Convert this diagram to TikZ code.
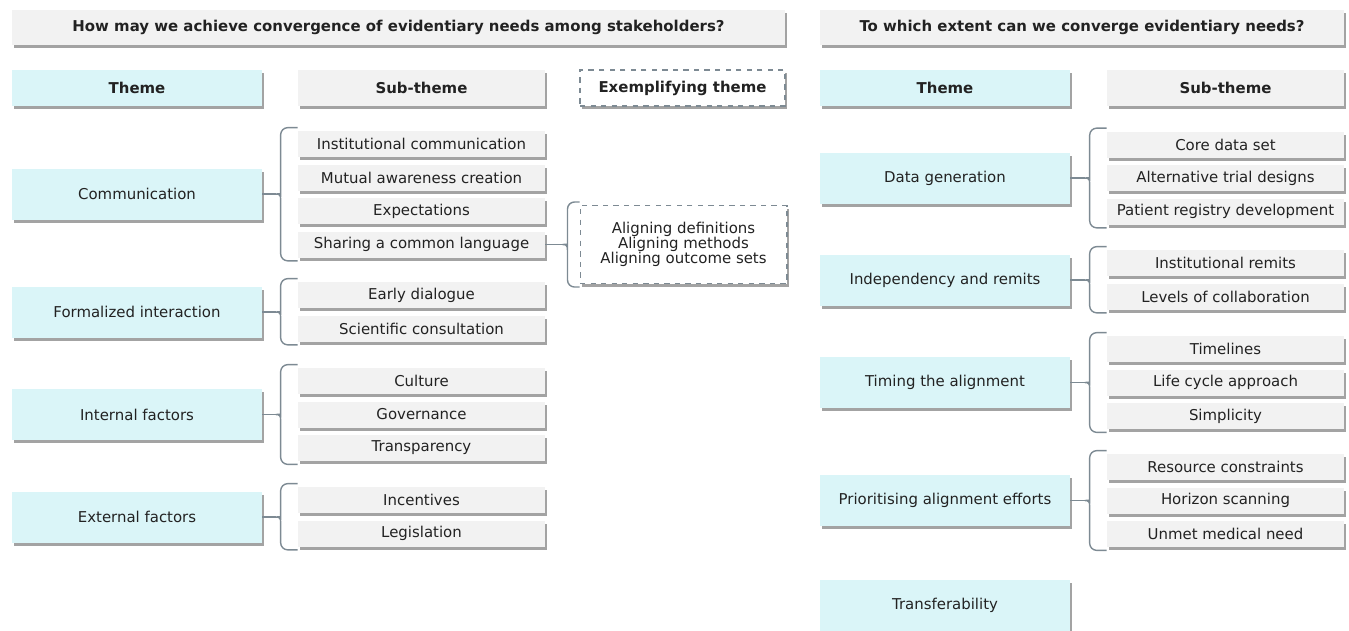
\documentclass[tikz,border=0pt]{standalone}
\usepackage{fontspec}
\setmainfont{DejaVu Sans}
\usetikzlibrary{calc,shadows}
\definecolor{themecyan}{HTML}{DAF5F8}
\definecolor{subgray}{HTML}{F2F2F2}
\definecolor{linegray}{HTML}{7D8A93}
\definecolor{textdark}{HTML}{222222}
\tikzset{
  box/.style={minimum height=0.52cm, inner sep=1pt, text=textdark,
    font=\fontsize{8.5}{10}\selectfont,
    drop shadow={shadow xshift=0.04cm, shadow yshift=-0.06cm, fill=black!45, opacity=0.8}},
  header/.style={box, fill=subgray, minimum height=0.7cm, font=\bfseries\fontsize{8.5}{10}\selectfont},
  theme/.style={box, fill=themecyan, minimum width=5cm, minimum height=1.02cm},
  sub/.style={box, fill=subgray, minimum width=4.94cm},
  subright/.style={sub, minimum width=4.74cm},
  example/.style={box, fill=white, draw=linegray, dashed, line width=0.6pt},
  bracket/.style={draw=linegray, line width=0.8pt}
}
% brace from a theme to its first and last sub-theme, #4 = gap
\newcommand{\subbrace}[4]{%
  \coordinate (bt) at ($(#2.north west)+(0,-3)$);
  \coordinate (bb) at ($(#3.south west)+(0,3)$);
  \coordinate (bm) at ($(#1.east -| bt)+(-#4,0)$);
  \draw[bracket] (bt) [rounded corners=4pt] -- ($(bt)+(-#4,0)$) -- ($(bm)+(0,-6)$) [sharp corners]
    .. controls ($(bm)+(0,-1)$) and ($(bm)+(-1,0)$) .. ($(bm)+(-5,0)$) coordinate (tip)
    .. controls ($(bm)+(-1,0)$) and ($(bm)+(0,1)$) .. ($(bm)+(0,6)$)
    [rounded corners=4pt] -- ($(bb)+(-#4,0)$) -- (bb);
  \draw[bracket] (#1.east) -- (tip);
}
\begin{document}
\begin{tikzpicture}[x=0.02cm,y=-0.02cm]
\useasboundingbox (0,0) rectangle (1349,630);
  % Draw questions
  \node[header, minimum width=15.46cm] (askL) at (398.5,27.5)
    {How may we achieve convergence of evidentiary needs among stakeholders?};
  \node[header, minimum width=10.48cm] (askR) at (1082,27.5)
    {To which extent can we converge evidentiary needs?};
  % Draw column headings
  \node[theme, minimum height=0.72cm, font=\bfseries\fontsize{8.5}{10}\selectfont] (themeL) at (137,88) {Theme};
  \node[header, minimum width=4.94cm, minimum height=0.72cm] (subL) at (421.5,88) {Sub-theme};
  \node[example, minimum width=4.1cm, minimum height=0.72cm, font=\bfseries\fontsize{8.5}{10}\selectfont] (exHead) at (682.5,88) {Exemplifying theme};
  \node[theme, minimum height=0.72cm, font=\bfseries\fontsize{8.5}{10}\selectfont] (themeR) at (945,88) {Theme};
  \node[header, minimum width=4.74cm, minimum height=0.72cm] (subR) at (1225.5,88) {Sub-theme};
  % Draw left themes
  \node[theme] (comm) at (137,194) {Communication};
  \node[theme] (formal) at (137,312) {Formalized interaction};
  \node[theme] (internal) at (137,414.5) {Internal factors};
  \node[theme] (external) at (137,517) {External factors};
  % Draw left sub-themes
  \foreach \id/\y/\txt in {comm1/144/Institutional communication,
      comm2/177.5/Mutual awareness creation, comm3/211/Expectations,
      comm4/244.5/Sharing a common language,
      formal1/295/Early dialogue, formal2/328.5/Scientific consultation,
      int1/381/Culture, int2/414.5/Governance, int3/448/Transparency,
      ext1/500/Incentives, ext2/533.5/Legislation}
    \node[sub] (\id) at (421.5,\y) {\txt};
  % Draw exemplifying theme
  \node[example, minimum width=4.14cm, minimum height=1.56cm, align=center,
    font=\fontsize{8.5}{8.6}\selectfont] (aligning) at (683.5,244.5)
    {Aligning definitions\\Aligning methods\\Aligning outcome sets};
  % Draw right themes
  \node[theme] (datagen) at (945,178) {Data generation};
  \node[theme] (indep) at (945,280) {Independency and remits};
  \node[theme] (timing) at (945,382.5) {Timing the alignment};
  \node[theme] (prior) at (945,500.5) {Prioritising alignment efforts};
  \node[theme] (transfer) at (945,605.5) {Transferability};
  % Draw right sub-themes
  \foreach \id/\y/\txt in {dg1/144.5/Core data set,
      dg2/178/Alternative trial designs, dg3/211.5/Patient registry development,
      ind1/263/Institutional remits, ind2/296.5/Levels of collaboration,
      tim1/349/Timelines, tim2/382.5/Life cycle approach, tim3/416/Simplicity,
      pri1/467/Resource constraints, pri2/500.5/Horizon scanning,
      pri3/534/Unmet medical need}
    \node[subright] (\id) at (1225.5,\y) {\txt};
  % Draw braces
  \subbrace{comm}{comm1}{comm4}{17}
  \subbrace{formal}{formal1}{formal2}{17}
  \subbrace{internal}{int1}{int3}{17}
  \subbrace{external}{ext1}{ext2}{17}
  \subbrace{comm4}{aligning}{aligning}{12}
  \subbrace{datagen}{dg1}{dg3}{17}
  \subbrace{indep}{ind1}{ind2}{17}
  \subbrace{timing}{tim1}{tim3}{17}
  \subbrace{prior}{pri1}{pri3}{17}
\end{tikzpicture}
\end{document}
